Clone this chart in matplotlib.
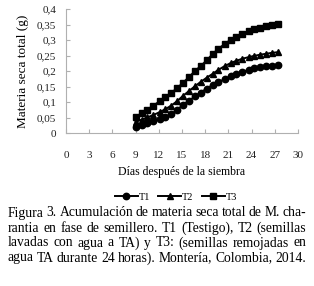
import matplotlib
matplotlib.use("Agg")
import matplotlib.pyplot as plt
from matplotlib.ticker import FuncFormatter

dias = [9.0, 9.8, 10.5, 11.3, 12.1, 12.8, 13.6, 14.4, 15.1, 15.9, 16.7, 17.4, 18.2,
        19.0, 19.7, 20.5, 21.3, 22.0, 22.8, 23.6, 24.3, 25.1, 25.9, 26.6, 27.4]
t1 = [0.021, 0.027, 0.033, 0.039, 0.046, 0.052, 0.061, 0.076, 0.091, 0.105, 0.119, 0.131, 0.144,
      0.156, 0.165, 0.174, 0.183, 0.191, 0.198, 0.204, 0.209, 0.213, 0.216, 0.218, 0.220]
t2 = [0.037, 0.044, 0.051, 0.059, 0.068, 0.077, 0.089, 0.104, 0.120, 0.136, 0.152, 0.165, 0.179,
      0.192, 0.204, 0.216, 0.226, 0.233, 0.240, 0.245, 0.249, 0.253, 0.256, 0.259, 0.261]
t3 = [0.052, 0.065, 0.076, 0.089, 0.103, 0.116, 0.130, 0.146, 0.162, 0.181, 0.201, 0.216, 0.235,
      0.256, 0.272, 0.287, 0.301, 0.311, 0.321, 0.328, 0.335, 0.340, 0.345, 0.349, 0.352]
x_ticks = [0, 3, 6, 9, 12, 15, 18, 21, 24, 27, 30]
y_ticks = [0, 0.05, 0.1, 0.15, 0.2, 0.25, 0.3, 0.35, 0.4]

caption = [
    "Figura 3. Acumulación de materia seca total de M. cha-",
    "rantia en fase de semillero. T1 (Testigo), T2 (semillas",
    "lavadas con agua a TA) y T3: (semillas remojadas en",
    "agua TA durante 24 horas). Montería, Colombia, 2014.",
]

plt.rcParams['font.family'] = 'Liberation Serif'

fig = plt.figure(figsize=(3.14, 2.86), dpi=100)
ax = fig.add_axes([66 / 314, 1 - 133.3 / 286, 232 / 314, 124.3 / 286])

ax.plot(dias, t1, color='black', lw=1.4, marker='o', ms=4.6, label='T1')
ax.plot(dias, t2, color='black', lw=1.4, marker='^', ms=5.0, label='T2')
ax.plot(dias, t3, color='black', lw=1.4, marker='s', ms=4.6, label='T3')

ax.set_xlim(0, 30)
ax.set_ylim(0, 0.4)
ax.set_xticks(x_ticks)
ax.set_yticks(y_ticks)
ax.yaxis.set_major_formatter(FuncFormatter(lambda v, p: ('%g' % v).replace('.', ',')))
for s in ['top', 'right']:
    ax.spines[s].set_visible(False)
for s in ['left', 'bottom']:
    ax.spines[s].set_color('#b0b0b0')
    ax.spines[s].set_linewidth(0.8)
ax.tick_params(axis='both', direction='in', color='#b0b0b0', length=3, width=0.8,
               labelsize=8, labelcolor='#222222')
ax.tick_params(axis='x', pad=13)
ax.tick_params(axis='y', pad=7)

ax.set_xlabel('Días después de la siembra', fontsize=8.5, labelpad=4)
ax.set_ylabel('Materia seca total (g)', fontsize=9.5, labelpad=6)

fig.legend(loc='center', bbox_to_anchor=(176 / 314, 1 - 197 / 286), ncol=3, frameon=False,
           fontsize=7.5, handlelength=2.2, handletextpad=0.1, columnspacing=0.8)

# justified caption lines
fig.canvas.draw()
renderer = fig.canvas.get_renderer()
left, right = 8, 306
for i, line in enumerate(caption):
    ypix = 213 + 15 * i
    words = line.split(' ')
    txts = [fig.text(0, 1 - ypix / 286, w, fontsize=9.8, va='center', ha='left') for w in words]
    widths = [t.get_window_extent(renderer).width for t in txts]
    gap = (right - left - sum(widths)) / (len(words) - 1)
    x = left
    for t, w in zip(txts, widths):
        t.set_x(x / 314)
        x += w + gap

fig.savefig('out.png', dpi=100)
